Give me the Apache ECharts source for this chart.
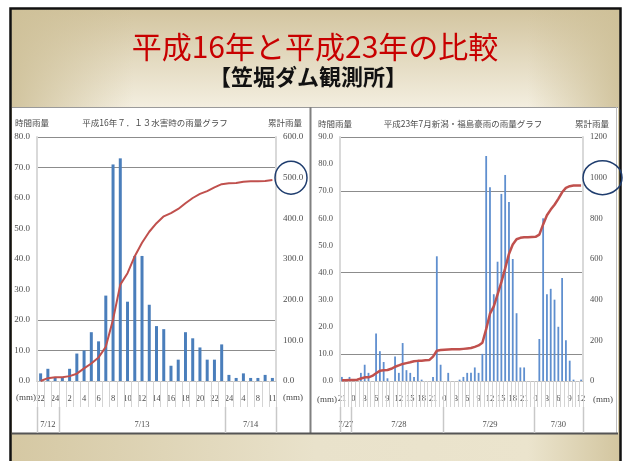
<!DOCTYPE html>
<html>
<head>
<meta charset="utf-8">
<title>平成16年と平成23年の比較</title>
<style>
  body { margin: 0; background: #fff; }
  #main { width: 627px; height: 461px; }
</style>
</head>
<body>
<div id="main"></div>
<script src="https://cdn.jsdelivr.net/npm/echarts@6.0.0/dist/echarts.min.js"></script>
<script>
// 平成16年7.13水害 (左のグラフ)
let leftHours = ["22", "23", "24", "1", "2", "3", "4", "5", "6", "7", "8", "9", "10", "11", "12", "13", "14", "15", "16", "17", "18", "19", "20", "21", "22", "23", "24", "2", "4", "6", "8", "10", "11"];
let leftRain = [2.5, 4, 1, 1, 4, 9, 10, 16, 13, 28, 71, 73, 26, 41, 41, 25, 18, 17, 5, 7, 16, 14, 11, 7, 7, 12, 2, 1, 2.5, 1, 1, 2, 1];
let leftTotal = [0, 7, 9, 9, 12, 18, 31, 43, 58, 84, 151, 237, 265, 307, 340, 367, 388, 405, 413, 423, 437, 450, 460, 467, 476, 484, 486, 487, 490, 491, 491, 492, 494];
let leftDays = ["7/12", "7/13", "7/14"];
let leftDayStart = [0, 3, 26];
let leftGridLines = [10, 20, 70, 80];

// 平成23年7月新潟・福島豪雨 (右のグラフ)
let rightHours = ["21", "22", "23",
  "0", "1", "2", "3", "4", "5", "6", "7", "8", "9", "10", "11", "12", "13", "14", "15", "16", "17", "18", "19", "20", "21", "22", "23",
  "0", "1", "2", "3", "4", "5", "6", "7", "8", "9", "10", "11", "12", "13", "14", "15", "16", "17", "18", "19", "20", "21", "22", "23",
  "0", "1", "2", "3", "4", "5", "6", "7", "8", "9", "10", "11", "12"];
let rightRain = [1.5, 0, 1.5, 0, 0, 3, 6, 3, 0, 17.5,
  11, 7, 1, 0, 9, 3, 14, 4, 3, 1.5,
  7, 0.5, 0, 0, 1.5, 46, 6, 0, 3, 0,
  0, 0.5, 1.5, 3, 3, 5, 3, 10, 83, 71.5,
  32, 44, 69, 76, 66, 45, 25, 5, 5, 0,
  0, 0, 15.5, 60, 32, 34, 30, 20, 38, 15,
  7.5, 0.5, 0, 0.5];
let rightTotal = [4, 4, 5, 5, 6, 12, 18, 18, 25, 38,
  50, 53, 54, 60, 70, 77, 84, 88, 92, 97,
  99, 100, 102, 103, 120, 149, 152, 154, 155, 156,
  156, 156, 158, 160, 162, 168, 175, 188, 255, 331,
  367, 426, 486, 554, 625, 671, 697, 704, 707, 707,
  708, 709, 720, 770, 815, 843, 867, 896, 928, 950,
  958, 961, 961, 961];
let rightDays = ["7/27", "7/28", "7/29", "7/30"];
let rightDayStart = [0, 3, 27, 51];
let rightGridLines = [10, 40, 70, 90];

let numFont = "Liberation Serif";
let jpFont = "Noto Sans CJK JP";
let textGray = "#4d4d4d";

// 日付ラベルは各日の真ん中のカテゴリに出す
function dayLabelIndex(starts, total) {
  return starts.map(function(s, i) {
    let end = i + 1 < starts.length ? starts[i + 1] - 1 : total - 1;
    return Math.round((s + end) / 2);
  });
}

// 必要な目盛線だけ色を付ける
function gridColors(max, step, lines) {
  let colors = [];
  for (let v = 0; v <= max; v += step) {
    colors.push(lines.indexOf(v) >= 0 ? "#8c8c8c" : "rgba(0,0,0,0)");
  }
  return colors;
}

function hourAxis(gridIndex, data, every) {
  return {
    type: "category",
    gridIndex: gridIndex,
    data: data,
    axisLine: { show: true, lineStyle: { color: "#bfbfbf" } },
    axisTick: { show: false },
    axisLabel: { interval: every - 1, margin: 13, fontFamily: numFont, fontSize: 8.5, color: textGray },
    splitLine: { show: false }
  };
}

function dayAxis(gridIndex, data, days, starts) {
  let mids = dayLabelIndex(starts, data.length);
  return {
    type: "category",
    gridIndex: gridIndex,
    data: data,
    position: "bottom",
    offset: 26,
    axisLine: { show: false },
    axisTick: { show: false },
    axisLabel: {
      interval: 0,
      margin: 13,
      fontFamily: numFont,
      fontSize: 8.5,
      color: textGray,
      formatter: function(v, i) {
        let k = mids.indexOf(i);
        return k >= 0 ? days[k] : "";
      }
    }
  };
}

function valueAxis(gridIndex, side, max, step, lines, size, digits) {
  return {
    type: "value",
    gridIndex: gridIndex,
    position: side,
    min: 0,
    max: max,
    interval: step,
    axisLine: { show: true, lineStyle: { color: "#d9d9d9", width: 2 } },
    axisTick: { show: false },
    axisLabel: {
      margin: 7,
      fontFamily: numFont,
      fontSize: size,
      color: textGray,
      formatter: function(v) {
        return v.toFixed(digits);
      }
    },
    splitLine: lines
      ? { show: true, lineStyle: { color: gridColors(max, step, lines), width: 1 } }
      : { show: false }
  };
}

function smallText(text, x, y, font) {
  return {
    type: "text",
    z: 50,
    style: {
      text: text, x: x, y: y,
      fill: textGray,
      font: font || "8.5px \"" + jpFont + "\"",
      align: "center", verticalAlign: "middle",
      textAlign: "center", textVerticalAlign: "middle"
    }
  };
}

function hLine(x1, x2, y, color, w, z) {
  return { type: "line", z: z || -8, shape: { x1: x1, y1: y, x2: x2, y2: y }, style: { stroke: color, lineWidth: w } };
}
function vLine(x, y1, y2, color, w, z) {
  return { type: "line", z: z || -8, shape: { x1: x, y1: y1, x2: x, y2: y2 }, style: { stroke: color, lineWidth: w } };
}

let graphics = [
  // スライドの枠と背景
  { type: "rect", z: -10, shape: { x: 10.5, y: 8.5, width: 610, height: 470 }, style: { fill: "#d8cca8", stroke: "#111", lineWidth: 2.5 } },
  {
    type: "rect", z: -10, shape: { x: 12, y: 10, width: 607, height: 97 },
    style: { fill: new echarts.graphic.LinearGradient(0, 0, 0, 1, [{ offset: 0, color: "#d3c5a0" }, { offset: 1, color: "#f3eedf" }]) }
  },
  {
    type: "rect", z: -10, shape: { x: 12, y: 10, width: 607, height: 97 },
    style: {
      fill: new echarts.graphic.LinearGradient(0, 0, 1, 0, [
        { offset: 0, color: "rgba(206,192,152,0.9)" },
        { offset: 0.2, color: "rgba(206,192,152,0)" },
        { offset: 0.85, color: "rgba(206,192,152,0)" },
        { offset: 1, color: "rgba(206,192,152,0.9)" }
      ])
    }
  },
  {
    type: "rect", z: -10, shape: { x: 12, y: 434, width: 607, height: 30 },
    style: {
      fill: new echarts.graphic.LinearGradient(0, 0, 1, 0, [
        { offset: 0, color: "#d5c8a3" },
        { offset: 0.5, color: "#e9e2cb" },
        { offset: 0.85, color: "#ebe4cd" },
        { offset: 1, color: "#d3c6a0" }
      ])
    }
  },
  { type: "rect", z: -9, shape: { x: 12, y: 107, width: 606, height: 326 }, style: { fill: "#fff" } },
  hLine(12, 618, 107.5, "#9a9a9a", 1),
  vLine(310.5, 107, 433, "#808080", 2),
  vLine(616.5, 107, 433, "#bfbfbf", 1),
  hLine(12, 618, 433.5, "#555", 2),

  // タイトル
  {
    type: "text", z: 50,
    style: {
      text: "平成16年と平成23年の比較", x: 315, y: 47,
      fill: "#c80000", font: "30px \"" + jpFont + "\"",
      align: "center", verticalAlign: "middle", textAlign: "center", textVerticalAlign: "middle"
    }
  },
  {
    type: "text", z: 50,
    style: {
      text: "【笠堀ダム観測所】", x: 308, y: 77,
      fill: "#111", font: "bold 22px \"" + jpFont + "\"",
      align: "center", verticalAlign: "middle", textAlign: "center", textVerticalAlign: "middle"
    }
  },

  // 左グラフの見出し
  smallText("時間雨量", 32, 123),
  smallText("平成16年７．１３水害時の雨量グラフ", 155, 123),
  smallText("累計雨量", 285, 123),
  smallText("(mm)", 26, 398, "9px \"" + numFont + "\""),
  smallText("(mm)", 293, 398, "9px \"" + numFont + "\""),

  // 右グラフの見出し
  smallText("時間雨量", 335, 124),
  smallText("平成23年7月新潟・福島豪雨の雨量グラフ", 463, 124),
  smallText("累計雨量", 592, 124),
  smallText("(mm)", 327, 400, "9px \"" + numFont + "\""),
  smallText("(mm)", 603, 400, "9px \"" + numFont + "\"")
];

let myChart = echarts.init(document.getElementById("main"));

option = {
  animation: false,
  backgroundColor: "#fff",
  grid: [
    { left: 37, top: 137, width: 239, height: 244 },
    { left: 340, top: 137, width: 243, height: 244 }
  ],
  xAxis: [
    hourAxis(0, leftHours, 2),
    dayAxis(0, leftHours, leftDays, leftDayStart),
    hourAxis(1, rightHours, 3),
    dayAxis(1, rightHours, rightDays, rightDayStart)
  ],
  yAxis: [
    valueAxis(0, "left", 80, 10, leftGridLines, 9, 1),
    valueAxis(0, "right", 600, 100, null, 9, 1),
    valueAxis(1, "left", 90, 10, rightGridLines, 8.5, 1),
    valueAxis(1, "right", 1200, 200, null, 8.5, 0)
  ],
  series: [
    {
      name: "時間雨量",
      type: "bar",
      xAxisIndex: 0,
      yAxisIndex: 0,
      barWidth: 3,
      itemStyle: { color: "#4a7ebb" },
      data: leftRain
    },
    {
      name: "累計雨量",
      type: "line",
      xAxisIndex: 0,
      yAxisIndex: 1,
      symbol: "none",
      lineStyle: { color: "#c0504d", width: 2 },
      itemStyle: { color: "#c0504d" },
      data: leftTotal
    },
    {
      name: "時間雨量",
      type: "bar",
      xAxisIndex: 2,
      yAxisIndex: 2,
      barWidth: 1.8,
      itemStyle: { color: "#5f8fcf" },
      data: rightRain
    },
    {
      name: "累計雨量",
      type: "line",
      xAxisIndex: 2,
      yAxisIndex: 3,
      symbol: "none",
      lineStyle: { color: "#c0504d", width: 2.5 },
      itemStyle: { color: "#c0504d" },
      data: rightTotal
    }
  ],
  graphic: graphics
};
myChart.setOption(option);

// 時刻の区切り線と日付の区切り線 (軸の位置から求める)
function categoryLines(xAxisIndex, count, starts) {
  let c0 = myChart.convertToPixel({ xAxisIndex: xAxisIndex }, 0);
  let c1 = myChart.convertToPixel({ xAxisIndex: xAxisIndex }, 1);
  let bw = c1 - c0;
  let base = myChart.convertToPixel({ yAxisIndex: xAxisIndex }, 0);
  for (let i = 0; i <= count; i++) {
    let x = Math.round(c0 + (i - 0.5) * bw) + 0.5;
    graphics.push(vLine(x, base, base + 26, "#d4d4d4", 1, 1));
  }
  starts.concat([count]).forEach(function(s) {
    let x = Math.round(c0 + (s - 0.5) * bw) + 0.5;
    graphics.push(vLine(x, base + 26, 433, "#c8c8c8", 1.5, 1));
  });
}
categoryLines(0, leftHours.length, leftDayStart);
categoryLines(2, rightHours.length, rightDayStart);

// 累計500mm・1000mmの目盛を丸で囲む
let y500 = myChart.convertToPixel({ yAxisIndex: 1 }, 500);
let y1000 = myChart.convertToPixel({ yAxisIndex: 3 }, 1000);
graphics.push(
  { type: "ellipse", z: 60, shape: { cx: 291, cy: y500, rx: 16, ry: 16.5 }, style: { fill: "none", stroke: "#1f3d6e", lineWidth: 1.5 } },
  { type: "ellipse", z: 60, shape: { cx: 602.5, cy: y1000, rx: 19.5, ry: 17 }, style: { fill: "none", stroke: "#1f3d6e", lineWidth: 1.5 } }
);
option.graphic = graphics;
myChart.setOption(option, true);
</script>
</body>
</html>
